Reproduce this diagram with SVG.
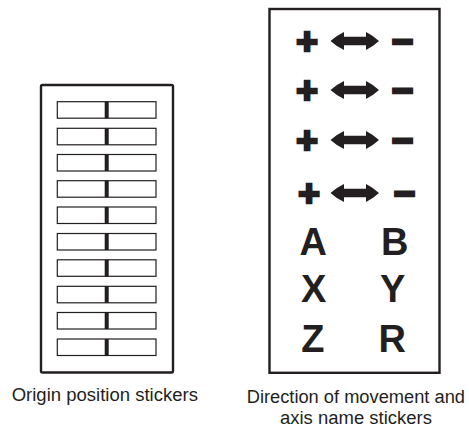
<svg xmlns="http://www.w3.org/2000/svg" width="469" height="427" viewBox="0 0 469 427">
<style>
.frame{fill:#fff;stroke:#231f20;stroke-width:2.4}
.stk{fill:#fff;stroke:#231f20;stroke-width:1.2}
.div{fill:#231f20}
.sym{font-family:"Liberation Sans",Arial,sans-serif;font-weight:bold;font-size:37px;fill:#231f20;stroke:#231f20;stroke-width:2.6;text-anchor:middle}
.axis{font-family:"Liberation Sans",Arial,sans-serif;font-weight:bold;font-size:38px;fill:#231f20;text-anchor:middle}
.cap{font-family:"Liberation Sans",Arial,sans-serif;font-size:18px;fill:#231f20}
.arr{fill:#231f20}
</style>
<defs>
<g id="sticker">
<rect class="stk" x="57.3" y="0" width="98.7" height="16.5"/>
<rect class="div" x="104.7" y="0" width="4" height="16.5"/>
</g>
<path id="dblarrow" class="arr" d="M0 0 Q6 -5.5 13.5 -9 L13.5 -4.3 L35.5 -4.3 L35.5 -9 Q42.5 -5.5 48.5 0 Q42.5 5.5 35.5 9 L35.5 4.3 L13.5 4.3 L13.5 9 Q6 5.5 0 0 Z"/>
</defs>
<g id="origin-stickers">
<rect class="frame" x="41" y="85" width="132" height="287.5" rx="1.5"/>
<use href="#sticker" y="101.7"/>
<use href="#sticker" y="128.3"/>
<use href="#sticker" y="154.5"/>
<use href="#sticker" y="180.7"/>
<use href="#sticker" y="207"/>
<use href="#sticker" y="233.5"/>
<use href="#sticker" y="259.8"/>
<use href="#sticker" y="286.3"/>
<use href="#sticker" y="312.5"/>
<use href="#sticker" y="339"/>
</g>
<g id="direction-stickers">
<rect class="frame" x="269.5" y="9" width="170" height="363.8"/>
<g id="row1">
<text class="sym" x="307" y="53.5">+</text>
<use href="#dblarrow" x="330.5" y="41"/>
<text class="sym" x="402.5" y="53.5">−</text>
</g>
<g id="row2">
<text class="sym" x="307" y="102.5">+</text>
<use href="#dblarrow" x="330.5" y="90"/>
<text class="sym" x="402.5" y="102.5">−</text>
</g>
<g id="row3">
<text class="sym" x="307" y="152.5">+</text>
<use href="#dblarrow" x="330.5" y="140"/>
<text class="sym" x="402.5" y="152.5">−</text>
</g>
<g id="row4">
<text class="sym" x="309" y="205.5">+</text>
<use href="#dblarrow" x="330.5" y="193"/>
<text class="sym" x="404.5" y="205.5">−</text>
</g>
<text class="axis" x="313.3" y="255">A</text>
<text class="axis" x="394.7" y="255">B</text>
<text class="axis" x="313.8" y="301.7">X</text>
<text class="axis" x="392.8" y="301.7">Y</text>
<text class="axis" x="312.8" y="351.7">Z</text>
<text class="axis" x="392.3" y="351.7">R</text>
</g>
<g id="captions">
<text class="cap" x="11.7" y="401" textLength="186.3" lengthAdjust="spacingAndGlyphs">Origin position stickers</text>
<text class="cap" x="246.7" y="403.3" textLength="218.3" lengthAdjust="spacingAndGlyphs">Direction of movement and</text>
<text class="cap" x="280" y="424.3" textLength="152" lengthAdjust="spacingAndGlyphs">axis name stickers</text>
</g>
</svg>
